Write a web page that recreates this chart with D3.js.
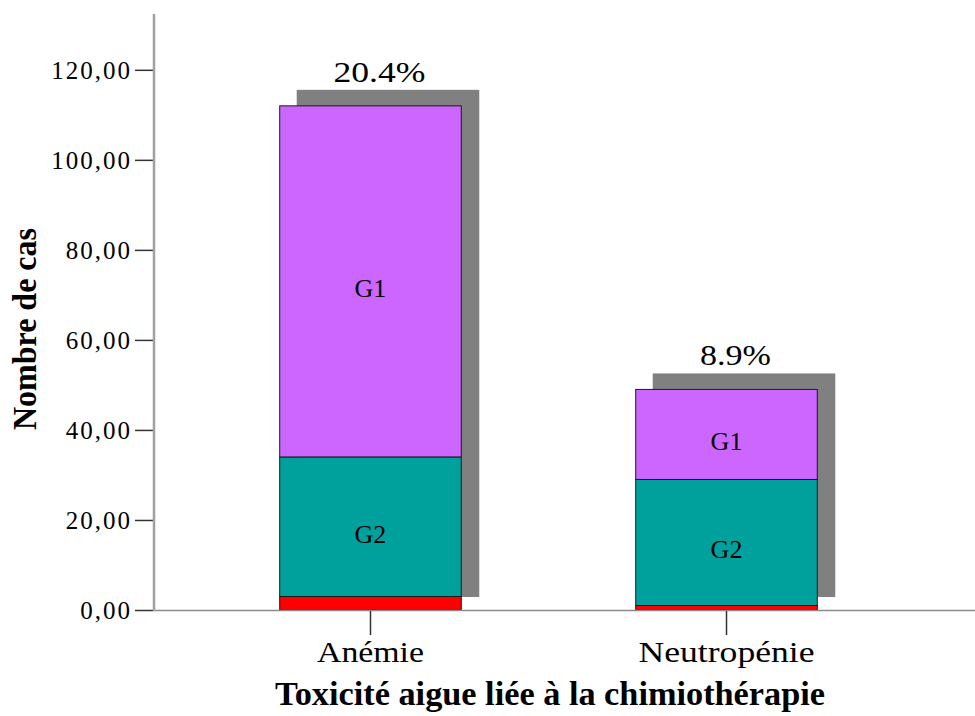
<!DOCTYPE html>
<html>
<head>
<meta charset="utf-8">
<script src="https://cdn.jsdelivr.net/npm/d3@7"></script>
<style>
  body { margin: 0; background: #fff; }
  svg text { font-family: "Liberation Serif", "Times New Roman", serif !important; fill: #000; }
</style>
</head>
<body>
<div id="chart"></div>
<script>
// categories and grade counts
const categories = ["Anémie", "Neutropénie"]
const grades = ["G3", "G2", "G1"]
const g3 = [3, 1]
const g2 = [31, 28]
const g1 = [78, 20]
const percents = ["20.4%", "8.9%"]
const yTicks = [0, 20, 40, 60, 80, 100, 120]
const gradeColors = { G3: "#ff0000", G2: "#00a19d", G1: "#cc66ff" }

const width = 975
const height = 716
const serif = '"Liberation Serif", "Times New Roman", serif'

const rows = categories.map((c, i) => ({ cat: c, G3: g3[i], G2: g2[i], G1: g1[i], pct: percents[i] }))

const svg = d3.select("#chart")
    .append("svg")
    .attr("width", width)
    .attr("height", height)
    .attr("font-family", serif)

const y = d3.scaleLinear().domain([0, 132.4]).range([610, 14])
const x = d3.scaleBand()
    .domain(categories)
    .range([122, 975])
    .paddingInner(0.49)
    .paddingOuter(0.443)

const stacked = d3.stack().keys(grades)(rows)

// shadows behind each bar
svg.append("g")
    .selectAll("rect")
    .data(rows)
    .join("rect")
    .attr("x", d => x(d.cat) + 17)
    .attr("width", x.bandwidth() + 1)
    .attr("y", d => y(d.G3 + d.G2 + d.G1) - 16)
    .attr("height", d => y(0) - 13 - (y(d.G3 + d.G2 + d.G1) - 16))
    .attr("fill", "#808080")

// stacked segments
svg.append("g")
    .selectAll("g")
    .data(stacked)
    .join("g")
    .attr("fill", d => gradeColors[d.key])
    .selectAll("rect")
    .data(d => d.map(v => Object.assign(v, { key: d.key })))
    .join("rect")
    .attr("x", d => x(d.data.cat))
    .attr("width", x.bandwidth())
    .attr("y", d => y(d[1]))
    .attr("height", d => y(d[0]) - y(d[1]))
    .attr("stroke", "#1a1a1a")
    .attr("stroke-width", 1)

// segment labels (G1, G2 only)
svg.append("g")
    .selectAll("g")
    .data(stacked.filter(s => s.key != "G3"))
    .join("g")
    .selectAll("text")
    .data(d => d)
    .join("text")
    .attr("x", d => x(d.data.cat) + x.bandwidth() / 2)
    .attr("y", d => (y(d[0]) + y(d[1])) / 2 + 16)
    .attr("text-anchor", "middle")
    .style("font-family", serif)
    .style("font-size", "26px")
    .text(d => d.key)

// percentage labels
svg.append("g")
    .selectAll("text")
    .data(rows)
    .join("text")
    .attr("x", d => x(d.cat) + x.bandwidth() / 2 + 9)
    .attr("y", d => y(d.G3 + d.G2 + d.G1) - 24)
    .attr("text-anchor", "middle")
    .attr("textLength", (d, i) => i == 0 ? 92 : 71)
    .attr("lengthAdjust", "spacingAndGlyphs")
    .style("font-family", serif)
    .style("font-size", "29px")
    .text(d => d.pct)

// x axis line
svg.append("line")
    .attr("x1", 154).attr("x2", width)
    .attr("y1", y(0) + 0.5).attr("y2", y(0) + 0.5)
    .attr("stroke", "#8c8c8c")
    .attr("stroke-width", 1.5)

// x ticks and category labels
const xAxis = svg.append("g")
xAxis.selectAll("line")
    .data(categories)
    .join("line")
    .attr("x1", d => x(d) + x.bandwidth() / 2)
    .attr("x2", d => x(d) + x.bandwidth() / 2)
    .attr("y1", y(0) + 1)
    .attr("y2", y(0) + 25)
    .attr("stroke", "#333")
    .attr("stroke-width", 1.5)
xAxis.selectAll("text")
    .data(categories)
    .join("text")
    .attr("x", d => x(d) + x.bandwidth() / 2)
    .attr("y", 662)
    .attr("text-anchor", "middle")
    .attr("textLength", (d, i) => i == 0 ? 107 : 176)
    .attr("lengthAdjust", "spacingAndGlyphs")
    .style("font-family", serif)
    .style("font-size", "30px")
    .text(d => d)

// y axis
const yAxis = svg.append("g")
    .attr("transform", "translate(154,0)")
    .call(d3.axisLeft(y)
        .tickValues(yTicks)
        .tickSize(19)
        .tickPadding(3)
        .tickFormat(d => d3.format(".2f")(d).replace(".", ",")))
yAxis.attr("font-family", serif)
yAxis.select(".domain").remove()
yAxis.selectAll(".tick line").attr("stroke", "#333").attr("stroke-width", 1.5)
yAxis.selectAll(".tick text")
    .style("font-family", serif)
    .style("font-size", "25px")
    .style("letter-spacing", "2px")
    .attr("dy", "0.34em")

svg.append("line")
    .attr("x1", 154).attr("x2", 154)
    .attr("y1", 14).attr("y2", y(0) + 1)
    .attr("stroke", "#a0a0a0")
    .attr("stroke-width", 2.5)

// titles
svg.append("text")
    .attr("x", 550)
    .attr("y", 705)
    .attr("text-anchor", "middle")
    .attr("textLength", 550)
    .attr("lengthAdjust", "spacingAndGlyphs")
    .style("font-family", serif)
    .style("font-size", "33px")
    .style("font-weight", "bold")
    .text("Toxicité aigue liée à la chimiothérapie")

svg.append("text")
    .attr("transform", "translate(36,329) rotate(-90)")
    .attr("text-anchor", "middle")
    .attr("textLength", 202)
    .attr("lengthAdjust", "spacingAndGlyphs")
    .style("font-family", serif)
    .style("font-size", "33px")
    .style("font-weight", "bold")
    .text("Nombre de cas")
</script>
</body>
</html>
